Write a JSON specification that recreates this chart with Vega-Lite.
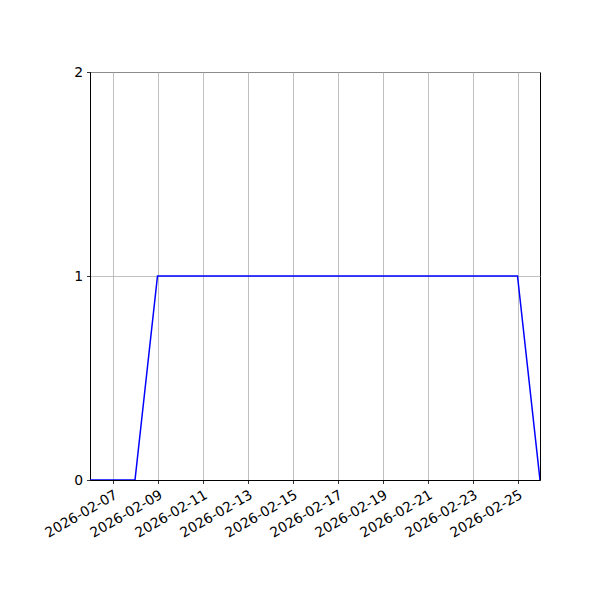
{
  "$schema": "https://vega.github.io/schema/vega-lite/v6.json",
  "autosize": {"type": "none"},
  "width": 450,
  "height": 408,
  "padding": {"left": 90, "top": 72, "right": 60, "bottom": 120},
  "background": "white",
  "data": {
    "values": [
      {"date": "2026-02-06", "value": 0},
      {"date": "2026-02-07", "value": 0},
      {"date": "2026-02-08", "value": 0},
      {"date": "2026-02-09", "value": 1},
      {"date": "2026-02-10", "value": 1},
      {"date": "2026-02-11", "value": 1},
      {"date": "2026-02-12", "value": 1},
      {"date": "2026-02-13", "value": 1},
      {"date": "2026-02-14", "value": 1},
      {"date": "2026-02-15", "value": 1},
      {"date": "2026-02-16", "value": 1},
      {"date": "2026-02-17", "value": 1},
      {"date": "2026-02-18", "value": 1},
      {"date": "2026-02-19", "value": 1},
      {"date": "2026-02-20", "value": 1},
      {"date": "2026-02-21", "value": 1},
      {"date": "2026-02-22", "value": 1},
      {"date": "2026-02-23", "value": 1},
      {"date": "2026-02-24", "value": 1},
      {"date": "2026-02-25", "value": 1},
      {"date": "2026-02-26", "value": 0}
    ]
  },
  "mark": {"type": "line", "color": "#0000ff", "strokeWidth": 1.5, "clip": true},
  "encoding": {
    "x": {
      "field": "date",
      "type": "temporal",
      "scale": {
        "type": "utc",
        "domain": [
          {"year": 2026, "month": 2, "date": 6, "utc": true},
          {"year": 2026, "month": 2, "date": 26, "utc": true}
        ],
        "nice": false
      },
      "axis": {
        "title": null,
        "values": [
          {"year": 2026, "month": 2, "date": 7, "utc": true},
          {"year": 2026, "month": 2, "date": 9, "utc": true},
          {"year": 2026, "month": 2, "date": 11, "utc": true},
          {"year": 2026, "month": 2, "date": 13, "utc": true},
          {"year": 2026, "month": 2, "date": 15, "utc": true},
          {"year": 2026, "month": 2, "date": 17, "utc": true},
          {"year": 2026, "month": 2, "date": 19, "utc": true},
          {"year": 2026, "month": 2, "date": 21, "utc": true},
          {"year": 2026, "month": 2, "date": 23, "utc": true},
          {"year": 2026, "month": 2, "date": 25, "utc": true}
        ],
        "format": "%Y-%m-%d",
        "labelAngle": -30,
        "labelAlign": "right",
        "labelBaseline": "top",
        "labelPadding": 4,
        "labelDx": -5,
        "labelDy": -2,
        "labelFlush": false,
        "labelOverlap": false
      }
    },
    "y": {
      "field": "value",
      "type": "quantitative",
      "scale": {"domain": [0, 2], "nice": false},
      "axis": {
        "title": null,
        "values": [0, 1, 2],
        "labelExpr": "format(datum.value, 'd')",
        "labelPadding": 4,
        "labelFlush": false,
        "labelOverlap": false
      }
    }
  },
  "config": {
    "font": "DejaVu Sans",
    "view": {"stroke": "black", "strokeWidth": 1},
    "axis": {
      "labelFont": "DejaVu Sans",
      "labelFontSize": 13.9,
      "labelColor": "black",
      "domainColor": "black",
      "domainWidth": 1,
      "tickColor": "black",
      "tickSize": 3.5,
      "tickWidth": 0.8,
      "grid": true,
      "gridColor": "#b0b0b0",
      "gridWidth": 0.8
    }
  }
}
